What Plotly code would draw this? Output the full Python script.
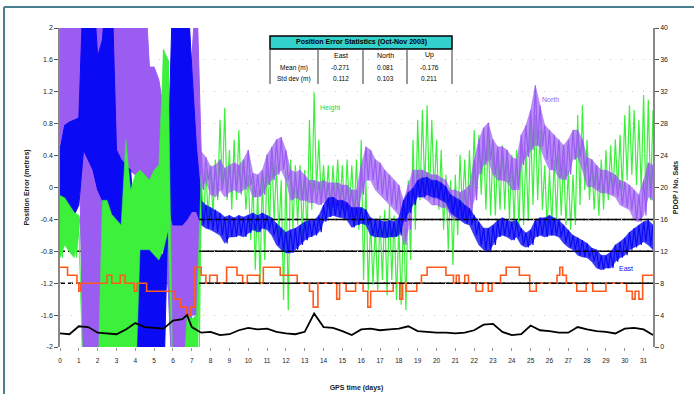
import plotly.graph_objects as go

# ---------------- DATA ----------------
# sampling grid (days) for the position-error envelopes
time_days = [i * 0.25 for i in range(127)]  # 0 .. 31.5

north_hi = [2.6, 2.6, 2.6, 2.6, 2.6, 2.6, 2.6, 2.6, 2.6, 2.6, 2.6, 2.6, 2.6, 2.6, 2.6,
            2.6, 2.6, 2.6, 2.6, 1.51, 1.51, 1.35, 0.97, 0.47, 0.3, 0.0, -0.03, 1.6, 1.6, 2.6,
            0.45, 0.38, 0.26, 0.28, 0.35, 0.24, 0.28, 0.31, 0.28, 0.35,
            0.47, 0.18, 0.16, 0.22, 0.41, 0.51, 0.60, 0.63, 0.47, 0.22,
            0.19, 0.22, 0.16, 0.09, 0.09, 0.07, 0.09, 0.06, 0.06, 0.06,
            0.03, 0.03, -0.03, -0.03, 0.28, 0.51, 0.47, 0.35, 0.31, 0.22,
            0.16, 0.09, 0.03, -0.16, 0.03, 0.22, 0.22, 0.22, 0.19, 0.16,
            0.16, 0.12, 0.09, -0.03, -0.03, -0.06, -0.03, 0.03, 0.35, 0.60,
            0.75, 0.81, 0.60, 0.51, 0.51, 0.47, 0.38, 0.35, 0.66, 0.78,
            0.97, 1.28, 1.03, 0.78, 0.72, 0.66, 0.60, 0.53, 0.60, 0.72,
            0.72, 0.60, 0.38, 0.35, 0.28, 0.22, 0.22, 0.19, 0.16, 0.09,
            0.07, 0.03, -0.03, -0.09, 0.09, 0.31, 0.28]
north_lo = [0.47, 0.6, 0.72, 0.78, 0.87, -2.6, -2.6, -2.6, -2.6, -0.16, 0.0, 0.0, 0.3, 0.3, 0.25,
            0.2, 0.16, 0.2, 0.15, -0.03, -0.1, -0.16, -0.66, -1.3, -2.6, -2.6, -2.6, -2.6, -1.6, -1.6,
            -0.03, 0.09, -0.09, -0.12, -0.03, -0.12, -0.06, -0.03, -0.07, -0.03,
            0.03, -0.12, -0.12, -0.09, 0.03, 0.09, 0.16, 0.22, 0.09, -0.16,
            -0.13, -0.16, -0.16, -0.19, -0.19, -0.22, -0.19, -0.25, -0.25, -0.22,
            -0.28, -0.28, -0.41, -0.35, -0.09, 0.09, 0.09, -0.03, -0.09, -0.16,
            -0.22, -0.28, -0.35, -0.72, -0.53, -0.12, -0.09, -0.12, -0.16, -0.22,
            -0.22, -0.25, -0.25, -0.35, -0.41, -0.41, -0.38, -0.35, -0.16, 0.16,
            0.28, 0.35, 0.16, 0.09, 0.09, 0.07, -0.03, -0.03, 0.28, 0.38,
            0.47, 0.53, 0.51, 0.35, 0.22, 0.22, 0.12, 0.09, 0.16, 0.35,
            0.38, 0.22, 0.01, 0.01, -0.03, -0.07, -0.07, -0.09, -0.12, -0.22,
            -0.25, -0.28, -0.41, -0.43, -0.35, -0.12, -0.16]

east_hi = [0.47, 0.78, 0.82, 0.85, 0.87, 2.6, 2.6, 2.6, 1.64, 1.85, 2.6, 2.6, 0.47, 0.35, 0.28,
           0.22, -0.6, -0.6, -0.62, -0.68, -0.72, -0.78, -0.85, 0.4, 2.6, 2.6, 2.6, 2.6, 1.5, 0.5,
           -0.16, -0.22, -0.25, -0.28, -0.32, -0.37, -0.35, -0.38, -0.35, -0.37,
           -0.35, -0.32, -0.35, -0.32, -0.35, -0.38, -0.45, -0.51, -0.56, -0.53,
           -0.51, -0.47, -0.43, -0.41, -0.41, -0.35, -0.22, -0.13, -0.12, -0.16,
           -0.16, -0.19, -0.25, -0.25, -0.25, -0.28, -0.38, -0.41, -0.41, -0.43,
           -0.41, -0.43, -0.38, -0.16, -0.06, -0.01, 0.09, 0.12, 0.13, 0.09,
           0.09, 0.06, 0.01, -0.09, -0.13, -0.16, -0.22, -0.26, -0.35, -0.43,
           -0.51, -0.51, -0.47, -0.41, -0.38, -0.41, -0.43, -0.41, -0.51, -0.57,
           -0.53, -0.41, -0.38, -0.38, -0.35, -0.38, -0.41, -0.47, -0.53, -0.60,
           -0.63, -0.66, -0.70, -0.76, -0.78, -0.85, -0.85, -0.81, -0.72, -0.68,
           -0.63, -0.56, -0.51, -0.47, -0.43, -0.41, -0.47]
east_lo = [-0.35, -0.38, -0.38, -0.35, -0.22, 0.47, 0.35, 0.22, -0.03, -0.16, -0.43, -0.47, -0.47, -0.5, -0.53,
           -0.66, -2.6, -2.6, -2.6, -2.6, -2.6, -2.6, -2.6, -0.2, -0.47, -0.47, -0.47, -0.4, -0.3, -0.3,
           -0.47, -0.51, -0.53, -0.56, -0.60, -0.70, -0.62, -0.62, -0.60, -0.62,
           -0.57, -0.53, -0.56, -0.51, -0.53, -0.60, -0.72, -0.78, -0.82, -0.82,
           -0.78, -0.72, -0.66, -0.62, -0.60, -0.56, -0.43, -0.37, -0.35, -0.37,
           -0.38, -0.41, -0.50, -0.47, -0.45, -0.47, -0.60, -0.62, -0.62, -0.63,
           -0.62, -0.62, -0.60, -0.43, -0.32, -0.22, -0.12, -0.12, -0.09, -0.12,
           -0.13, -0.16, -0.19, -0.32, -0.37, -0.41, -0.45, -0.47, -0.60, -0.72,
           -0.78, -0.81, -0.72, -0.62, -0.60, -0.62, -0.66, -0.62, -0.72, -0.75,
           -0.72, -0.62, -0.60, -0.62, -0.60, -0.60, -0.62, -0.70, -0.75, -0.78,
           -0.85, -0.87, -0.88, -0.93, -1.01, -1.03, -1.01, -1.01, -0.93, -0.88,
           -0.85, -0.78, -0.75, -0.72, -0.68, -0.72, -0.78]

up_hi = [-0.1, -0.13, -0.22, -0.31, -0.35, -2.6, -2.6, -2.6, -2.6, -0.16, -0.16, -0.34, -0.41, -0.47, 0.6,
         -0.03, 0.16, 0.22, 0.16, 0.09, 0.22, 0.28, 1.73, 1.6, -2.6, -2.6, -2.6, -1.6, -1.65, -1.6,
         0.16, 0.22, 0.28, 0.35, 0.85, 1.00, 0.47, 0.60, 0.72, 0.35,
         0.16, 0.09, -0.03, 0.16, 0.41, 0.47, 0.28, 0.09, 0.22, 0.35,
         0.28, 0.28, 0.22, 0.85, 1.19, 0.60, 0.28, 0.28, 0.28, 0.35,
         0.28, 0.35, 0.28, 0.35, 0.60, 0.09, -0.41, -0.47, -0.35, -0.28,
         -0.22, -0.35, -0.47, -0.28, 0.09, 0.60, 0.85, 0.97, 1.03, 0.85,
         0.60, 0.47, 0.16, 0.09, 0.16, 0.41, 0.35, 0.47, 0.72, 0.66,
         0.60, 0.66, 0.53, 0.47, 0.53, 0.47, 0.41, 0.47, 0.53, 0.47,
         0.78, 0.91, 0.72, 0.28, 0.22, 0.35, 0.41, 0.35, 0.22, 0.16,
         0.91, 1.03, 0.60, 0.35, 0.28, 0.35, 0.47, 0.53, 0.60, 0.66,
         0.91, 1.03, 0.97, 0.85, 1.16, 1.10, 0.97]
up_lo = [-0.88, -0.72, -0.81, -0.88, -0.6, -2.6, -2.6, -2.6, -2.6, -2.6, -2.6, -2.6, -2.6, -2.6, -2.6,
         -2.6, -2.6, -0.78, -0.78, -0.78, -0.85, -0.91, -0.78, -0.53, -2.6, -2.6, -2.6, -2.6, -2.6, -2.6,
         -0.47, -0.41, -0.35, -0.16, -0.03, -0.16, -0.28, -0.16, -0.09, -0.28,
         -0.66, -1.03, -1.22, -0.91, -0.53, -0.41, -0.60, -1.41, -1.54, -0.53,
         -0.47, -0.60, -0.66, -0.28, -0.03, -0.16, -0.22, -0.28, -0.22, -0.22,
         -0.35, -0.28, -0.35, -0.53, -1.16, -1.29, -1.22, -1.29, -1.16, -1.35,
         -1.16, -1.41, -1.47, -1.54, -0.91, -0.53, -0.16, -0.03, -0.16, -0.09,
         -0.28, -0.53, -0.78, -0.97, -0.60, -0.28, -0.41, -0.28, -0.16, -0.09,
         -0.28, -0.35, -0.35, -0.28, -0.28, -0.41, -0.47, -0.53, -0.47, -0.41,
         -0.22, -0.16, -0.28, -0.53, -0.47, -0.41, -0.35, -0.47, -0.53, -0.47,
         -0.22, -0.03, -0.16, -0.28, -0.35, -0.28, -0.16, -0.09, -0.03, -0.03,
         0.09, 0.16, 0.03, -0.03, -0.22, -0.16, -0.28]

# number of satellites (step changes)
sats_t = [0.0, 0.4, 0.9, 1.0, 1.1, 2.5, 2.75, 3.2, 3.45, 3.95, 4.1, 4.6, 6.05, 6.4, 6.7, 6.95,
          7.15, 7.5, 7.75, 7.95, 8.35, 8.85, 9.4, 9.7, 9.95, 10.6, 10.8, 11.7, 12.6, 13.25, 13.45,
          13.7, 14.7, 14.85, 15.2, 15.7, 16.1, 16.35, 16.5, 17.7, 18.05, 18.2, 18.4, 18.95, 19.2,
          19.5, 20.5, 20.9, 21.05, 21.2, 21.5, 21.7, 22.1, 22.45, 22.75, 22.95, 23.4, 23.7, 24.4,
          24.95, 25.3, 26.4, 26.55, 26.7, 26.9, 27.45, 27.95, 28.3, 29.0, 30.1, 30.4, 30.55, 30.75,
          30.95, 31.5]
sats = [10, 9, 8, 7, 8, 9, 8, 9, 8, 7, 8, 7, 6, 5, 4, 5,
        10, 9, 8, 9, 8, 10, 9, 8, 9, 8, 10, 9, 8, 7, 5,
        8, 6, 8, 7, 8, 7, 5, 7, 8, 6, 8, 7, 8, 9,
        10, 9, 8, 9, 8, 9, 8, 7, 8, 7, 8, 9, 10, 9,
        7, 8, 9, 10, 9, 8, 7, 8, 7, 8, 7, 6, 7, 6,
        9, 9]

pdop_t = [0, 0.5, 1.0, 1.5, 2.0, 2.5, 3.0, 3.5, 4.0, 4.5, 5.0, 5.5, 6.0, 6.5, 6.75, 7.0, 7.5, 8.0,
          8.5, 9.0, 9.5, 10.0, 10.5, 11.0, 11.5, 12.0, 12.5, 13.0, 13.5, 14.0, 14.5, 15.0, 15.5,
          16.0, 16.5, 17.0, 17.5, 18.0, 18.5, 19.0, 19.5, 20.0, 20.5, 21.0, 21.5, 22.0, 22.5, 23.0,
          23.5, 24.0, 24.5, 25.0, 25.5, 26.0, 26.5, 27.0, 27.5, 28.0, 28.5, 29.0, 29.5, 30.0, 30.5,
          31.0, 31.5]
pdop = [1.7, 1.6, 2.6, 2.5, 1.8, 1.7, 1.6, 2.2, 3.0, 2.5, 2.4, 2.3, 3.3, 3.5, 4.0, 2.5, 1.8, 1.9,
        1.5, 1.6, 2.1, 2.4, 2.2, 2.3, 1.9, 1.7, 1.6, 1.9, 4.2, 2.5, 2.4, 2.0, 1.5,
        2.2, 2.3, 2.1, 2.2, 2.3, 2.6, 2.0, 1.9, 1.8, 1.8, 1.7, 1.8, 2.1, 2.8, 2.9,
        1.9, 1.5, 1.6, 2.7, 2.1, 2.0, 1.8, 1.8, 2.5, 2.2, 2.0, 1.9, 1.7, 2.3, 2.4,
        2.2, 1.5]

ref_levels = [16, 12, 8]  # dashed reference lines (right axis)

left_ticks = [2, 1.6, 1.2, 0.8, 0.4, 0, -0.4, -0.8, -1.2, -1.6, -2]
left_tick_text = ["2", "1.6", "1.2", "0.8", "0.4", "0", "-0.4", "-0.8", "-1.2", "-1.6", "-2"]
right_ticks = [0, 4, 8, 12, 16, 20, 24, 28, 32, 36, 40]
x_ticks = list(range(32))

table_title = "Position Error Statistics (Oct-Nov 2003)"
table_cols = ["East", "North", "Up"]
table_rows = ["Mean (m)", "Std dev (m)"]
table_vals = [["-0.271", "0.081", "-0.176"], ["0.112", "0.103", "0.211"]]

# ---------------- FIGURE ----------------
W, H = 694, 394
L, R, T, B = 60, 41, 28, 47
PW, PH = W - L - R, H - T - B
N_EARLY = 31  # samples of the unconverged start (drawn solid in the original)


def px2x(px):
    return (px - L) / PW


def px2y(py):
    return (H - B - py) / PH


def band(hi, lo, start=0, stop=None):
    t = time_days[start:stop]
    h = hi[start:stop]
    lw = lo[start:stop]
    return t + t[::-1], h + lw[::-1]


def zig(hi, lo, start=0, stop=None):
    xs, ys = [], []
    for t, h, l in zip(time_days[start:stop], hi[start:stop], lo[start:stop]):
        xs += [t, t + 0.125]
        ys += [h, l]
    return xs, ys


C_NORTH = "#9B5CF2"
C_NORTH_A = "rgba(155,92,242,0.7)"
C_EAST = "#0A0AF5"
C_EAST_A = "rgba(10,10,245,0.8)"
C_UP = "#3CF03C"
C_SATS = "#FF5A1E"

fig = go.Figure()

# noisy height trace sits beneath the north / east bands
xs, ys = zig(up_hi, up_lo)
fig.add_trace(go.Scatter(x=xs, y=ys, mode="lines", line=dict(color=C_UP, width=1.2), name="Height"))

# North: solid while unconverged, noisy band afterwards
bx, by = band(north_hi, north_lo, 0, N_EARLY)
fig.add_trace(go.Scatter(x=bx, y=by, mode="lines", fill="toself", fillcolor=C_NORTH,
                         line=dict(color=C_NORTH, width=1), name="North"))
bx, by = band(north_hi, north_lo, N_EARLY - 1)
fig.add_trace(go.Scatter(x=bx, y=by, mode="lines", fill="toself", fillcolor=C_NORTH_A,
                         line=dict(color=C_NORTH_A, width=0.5), name="North"))
xs, ys = zig(north_hi, north_lo, N_EARLY - 1)
fig.add_trace(go.Scatter(x=xs, y=ys, mode="lines", line=dict(color=C_NORTH, width=1.2), name="North"))

# East
bx, by = band(east_hi, east_lo, 0, N_EARLY)
fig.add_trace(go.Scatter(x=bx, y=by, mode="lines", fill="toself", fillcolor=C_EAST,
                         line=dict(color=C_EAST, width=1), name="East"))
bx, by = band(east_hi, east_lo, N_EARLY - 1)
fig.add_trace(go.Scatter(x=bx, y=by, mode="lines", fill="toself", fillcolor=C_EAST_A,
                         line=dict(color=C_EAST_A, width=0.5), name="East"))
xs, ys = zig(east_hi, east_lo, N_EARLY - 1)
fig.add_trace(go.Scatter(x=xs, y=ys, mode="lines", line=dict(color=C_EAST, width=1.2), name="East"))

# Height: solid while unconverged
bx, by = band(up_hi, up_lo, 0, N_EARLY)
fig.add_trace(go.Scatter(x=bx, y=by, mode="lines", fill="toself", fillcolor=C_UP,
                         line=dict(color=C_UP, width=0.5), name="Height"))

fig.add_trace(go.Scatter(x=sats_t, y=sats, mode="lines", line=dict(color=C_SATS, width=1.6, shape="hv"),
                         yaxis="y2", name="# Sats"))
fig.add_trace(go.Scatter(x=pdop_t, y=pdop, mode="lines", line=dict(color="black", width=1.8),
                         yaxis="y2", name="PDOP"))

shapes = []
for lv in ref_levels:
    shapes.append(dict(type="line", xref="x", yref="y2", x0=0, x1=31.5, y0=lv, y1=lv,
                       line=dict(color="black", width=1.5, dash="5px,3px"), layer="below"))
    shapes.append(dict(type="line", xref="x", yref="y2", x0=7.4, x1=31.5, y0=lv, y1=lv,
                       line=dict(color="black", width=1.5, dash="5px,3px"), layer="above"))

# outer frame (partially cropped)
frame_col = "#4A7F8F"
shapes.append(dict(type="line", xref="paper", yref="paper", x0=px2x(4), x1=px2x(700),
                   y0=px2y(7), y1=px2y(7), line=dict(color=frame_col, width=2)))
shapes.append(dict(type="line", xref="paper", yref="paper", x0=px2x(4), x1=px2x(4),
                   y0=px2y(7), y1=px2y(400), line=dict(color=frame_col, width=2)))

# statistics table
col_px = [270, 318, 363, 407, 452]
row_px = [36, 49, 62, 73, 84]
shapes.append(dict(type="rect", xref="paper", yref="paper", x0=px2x(col_px[0]), x1=px2x(col_px[-1]),
                   y0=px2y(row_px[0]), y1=px2y(row_px[1]), fillcolor="#33D1CC",
                   line=dict(color="black", width=1.5)))
for cx in col_px:
    shapes.append(dict(type="line", xref="paper", yref="paper", x0=px2x(cx), x1=px2x(cx),
                       y0=px2y(row_px[1]), y1=px2y(row_px[-1]),
                       line=dict(color="#555555", width=1.2)))

annotations = []
annotations.append(dict(xref="paper", yref="paper", x=px2x((col_px[0] + col_px[-1]) / 2),
                        y=px2y((row_px[0] + row_px[1]) / 2), text="<b>" + table_title + "</b>",
                        showarrow=False, font=dict(size=7, color="black"), xanchor="center",
                        yanchor="middle"))
for j, c in enumerate(table_cols):
    annotations.append(dict(xref="paper", yref="paper", x=px2x((col_px[j + 1] + col_px[j + 2]) / 2),
                            y=px2y((row_px[1] + row_px[2]) / 2), text=c, showarrow=False,
                            font=dict(size=7, color="black"), xanchor="center", yanchor="middle"))
for i, rlab in enumerate(table_rows):
    yc = px2y((row_px[i + 2] + row_px[i + 3]) / 2)
    annotations.append(dict(xref="paper", yref="paper", x=px2x((col_px[0] + col_px[1]) / 2), y=yc,
                            text=rlab, showarrow=False, font=dict(size=6.5, color="black"),
                            xanchor="center", yanchor="middle"))
    for j in range(3):
        annotations.append(dict(xref="paper", yref="paper", x=px2x((col_px[j + 1] + col_px[j + 2]) / 2),
                                y=yc, text=table_vals[i][j], showarrow=False,
                                font=dict(size=6.5, color="black"), xanchor="center", yanchor="middle"))

# series labels
annotations.append(dict(x=25.5, y=1.1, xref="x", yref="y", text="North", showarrow=False,
                        xanchor="left", yanchor="middle", font=dict(size=7, color=C_NORTH)))
annotations.append(dict(x=29.6, y=-1.01, xref="x", yref="y", text="East", showarrow=False,
                        xanchor="left", yanchor="middle", font=dict(size=7, color=C_EAST)))
annotations.append(dict(x=13.7, y=1.0, xref="x", yref="y", text="Height", showarrow=False,
                        xanchor="left", yanchor="middle", font=dict(size=7, color="#2DD82D")))

fig.update_layout(
    width=W, height=H,
    margin=dict(l=L, r=R, t=T, b=B, autoexpand=False),
    paper_bgcolor="white", plot_bgcolor="white",
    showlegend=False,
    font=dict(family="Liberation Sans, Arial, sans-serif", size=7, color="#222222"),
    xaxis=dict(range=[0, 31.5], tickvals=x_ticks, ticks="outside", ticklen=3, tickcolor="#999999",
               showgrid=False, zeroline=False, showline=False, tickfont=dict(size=6.5),
               ticklabelstandoff=4, automargin=False,
               title=dict(text="<b>GPS time (days)</b>", font=dict(size=7), standoff=22)),
    yaxis=dict(range=[-2, 2], tickvals=left_ticks, ticktext=left_tick_text, ticks="outside",
               ticklen=4, tickcolor="#555555", showline=True, linecolor="#888888", linewidth=1.5,
               showgrid=True, gridcolor="#C8C8C8", griddash="1px,10px", zeroline=False,
               tickfont=dict(size=7), automargin=False,
               title=dict(text="<b>Position Error (metres)</b>", font=dict(size=7), standoff=10)),
    yaxis2=dict(range=[0, 40], tickvals=right_ticks, overlaying="y", side="right", ticks="outside",
                ticklen=4, tickcolor="#555555", showline=True, linecolor="#888888", linewidth=1.5,
                showgrid=False, zeroline=False, tickfont=dict(size=7), automargin=False,
                title=dict(text="<b>PDOP / No. Sats</b>", font=dict(size=7), standoff=6)),
    shapes=shapes,
    annotations=annotations,
)

fig.write_html("out.html", config={"displayModeBar": False},
               post_script="document.body.style.margin='0';")
